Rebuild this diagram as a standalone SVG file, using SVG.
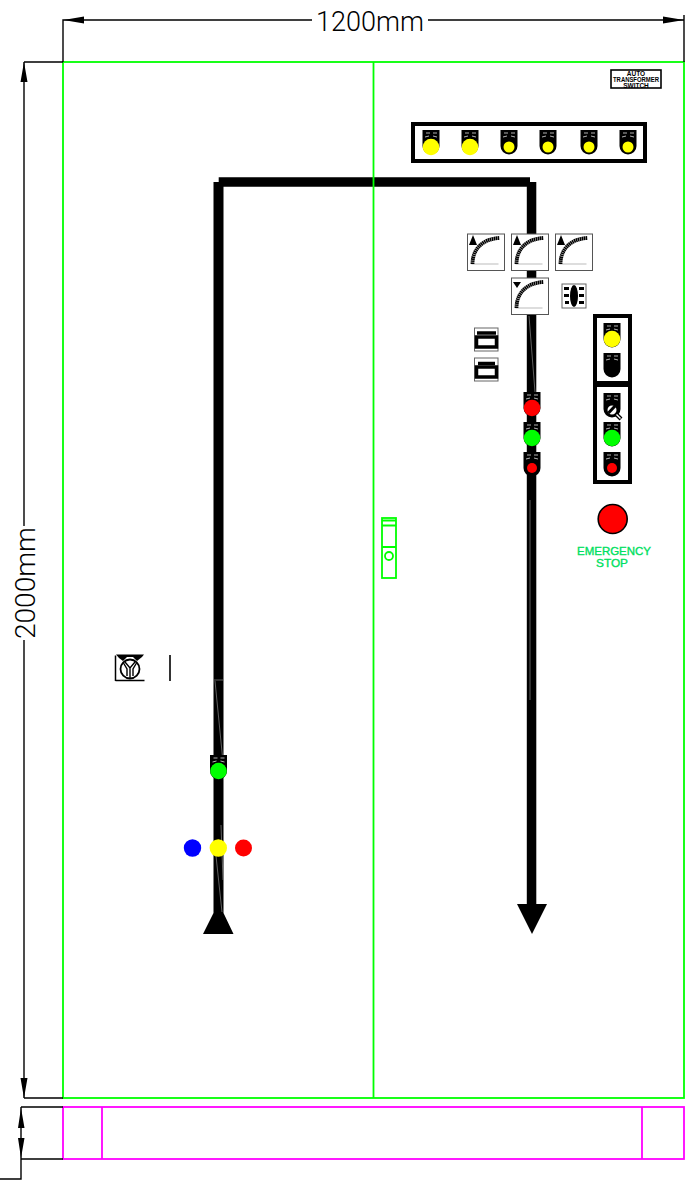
<svg xmlns="http://www.w3.org/2000/svg" width="686" height="1191" viewBox="0 0 686 1191">
<style>
.g{fill:none;stroke:#00ff00;stroke-width:1.8}
.m{fill:none;stroke:#ff00ff;stroke-width:1.8}
.d{fill:none;stroke:#000;stroke-width:1.4}
.dt{font-family:"Roboto","Liberation Sans",sans-serif;font-size:27px;fill:#000;font-weight:300}
.hair{stroke:#8a8a8a;stroke-width:.7;fill:none}
.mb{fill:#fff;stroke:#555;stroke-width:1}
.arc{fill:none;stroke:#000;stroke-width:3.8;stroke-dasharray:1.6 .4}
.bl{stroke:#bbb;stroke-width:1;fill:none}
.fr{fill:#fff;stroke:#000;stroke-width:4}
.w{stroke:#ddd;stroke-width:.8;fill:none}
.es{font-family:"Liberation Sans",Arial,sans-serif;font-size:10.8px;fill:#00e060;stroke:#00e060;stroke-width:.35;text-anchor:middle}
</style>
<defs>
<path id="sh" d="M-8.500 0H8.500V16A8.500 8.500 0 0 1-8.500 16Z" fill="#000"/>
<g id="marks"><path class="w" d="M-5 3H-1M2 3H6M-6 7L-2 6M2 6L6 7"/></g>
<g id="mtr"><rect class="mb" x="0" y="0" width="37" height="36.500"/><path class="bl" d="M4 30H31"/><path class="arc" d="M5 30C5 15 15 5 32 4"/></g>
</defs>
<rect width="686" height="1191" fill="#fff"/>
<g id="connectors">
<path d="M213.500 182H218.700V177.200H530V186.700H223.500V913L233.500 934H203L213.500 913Z" fill="#000"/>
<path d="M526.800 182H536.300V904H547L532 934L517 904H526.800Z" fill="#000"/>
<path class="hair" d="M214 680H223M215 681L222.500 757M221 825L223 880M216 856L222 912M529 316L535 392M530 500V700"/>
</g>
<g id="frame">
<rect class="g" x="63" y="62" width="621" height="1036"/>
<path class="g" d="M373.500 62V1098"/>
</g>
<g id="plinth">
<rect class="m" x="63" y="1107" width="621" height="52"/>
<path class="m" d="M102 1107V1159M642 1107V1159"/>
</g>
<g id="dimensions">
<path class="d" d="M63 62V20H312M428 20H684M684 15V62M24 62H63M24 1098H63M24 62V526M24 640V1098M21 1107H63M21 1159H63M21 1107V1179H0"/>
<path d="M63.500 20L84 16.500V23.500Z M684 20L663 16.500V23.500Z M24 62L20.500 82H27.500Z M24 1098L20.500 1078H27.500Z M21 1108L18 1128H24.500Z M21 1158L18 1138H24.500Z"/>
<text class="dt" x="370" y="31" text-anchor="middle" textLength="108" lengthAdjust="spacingAndGlyphs">1200mm</text>
<text class="dt" transform="translate(35 583) rotate(-90)" text-anchor="middle" textLength="112" lengthAdjust="spacingAndGlyphs">2000mm</text>
</g>
<g id="nameplate">
<rect x="611" y="70" width="50" height="18" fill="#fff" stroke="#000" stroke-width="1.600"/>
<g font-family="Liberation Sans,Arial,sans-serif" font-size="6.500" font-weight="700" text-anchor="middle" fill="#000">
<text x="636" y="75.500">AUTO</text><text x="636" y="81.500" textLength="46" lengthAdjust="spacingAndGlyphs">TRANSFORMER</text><text x="636" y="87.500">SWITCH</text>
</g>
</g>
<g id="lamp-panel-top">
<rect class="fr" x="413" y="124" width="232" height="37"/>
<use href="#sh" x="431" y="130"/><use href="#marks" x="431" y="130"/><circle cx="431" cy="147" r="8.300" fill="#ff0"/>
<use href="#sh" x="470" y="130"/><use href="#marks" x="470" y="130"/><circle cx="470" cy="147" r="8.300" fill="#ff0"/>
<use href="#sh" x="509" y="130"/><use href="#marks" x="509" y="130"/><circle cx="509" cy="147" r="5.500" fill="#ff0"/>
<use href="#sh" x="548" y="130"/><use href="#marks" x="548" y="130"/><circle cx="548" cy="147" r="5.500" fill="#ff0"/>
<use href="#sh" x="589" y="130"/><use href="#marks" x="589" y="130"/><circle cx="589" cy="147" r="5.500" fill="#ff0"/>
<use href="#sh" x="628" y="130"/><use href="#marks" x="628" y="130"/><circle cx="628" cy="147" r="5.500" fill="#ff0"/>
</g>
<g id="meter-1"><use href="#mtr" x="467.500" y="234"/><path d="M473 235L469 245H477Z"/></g>
<g id="meter-2"><use href="#mtr" x="511.500" y="234"/><path d="M517 235L513 245H521Z"/></g>
<g id="meter-3"><use href="#mtr" x="555.500" y="234"/><path d="M561 235L557 245H565Z"/></g>
<g id="meter-4"><use href="#mtr" x="511.500" y="278"/><path d="M513 282H521L517 288Z"/></g>
<g id="selector-small">
<rect x="562" y="284" width="24" height="24" fill="#fff" stroke="#666"/>
<ellipse cx="574" cy="296" rx="4" ry="11"/>
<path d="M564 288.500H569M579 288.500H584M564 295.500H569M579 295.500H584M565 302.500H569M579 302.500H584" stroke="#000" stroke-width="3"/>
</g>
<g id="switch-a">
<rect x="474.500" y="328" width="23.500" height="23" fill="#fff" stroke="#666"/>
<rect x="476.500" y="337" width="20" height="10" fill="#fff" stroke="#000" stroke-width="3.500"/>
<path d="M477 333H496" stroke="#000" stroke-width="3.500"/>
</g>
<g id="switch-b">
<rect x="474.500" y="358" width="23.500" height="23" fill="#fff" stroke="#666"/>
<rect x="476.500" y="367" width="20" height="10" fill="#fff" stroke="#000" stroke-width="3.500"/>
<path d="M478 363.500H495" stroke="#000" stroke-width="3.500"/>
</g>
<g id="lamps-centre">
<use href="#sh" x="532" y="392"/><use href="#marks" x="532" y="392"/><circle cx="532" cy="408" r="8.300" fill="#f00"/>
<use href="#sh" x="532" y="422"/><use href="#marks" x="532" y="422"/><circle cx="532" cy="438" r="8.300" fill="#0f0"/>
<use href="#sh" x="532" y="452"/><use href="#marks" x="532" y="452"/><circle cx="532" cy="468" r="5" fill="#f00"/>
</g>
<g id="control-panel">
<rect class="fr" x="595" y="316" width="35" height="67"/>
<rect class="fr" x="595" y="385" width="35" height="97"/>
<use href="#sh" x="612" y="323"/><use href="#marks" x="612" y="323"/><circle cx="612" cy="339" r="8.300" fill="#ff0"/>
<use href="#sh" x="612" y="353"/><use href="#marks" x="612" y="353"/>
<use href="#sh" x="612" y="393"/><use href="#marks" x="612" y="393"/>
<circle cx="612" cy="410" r="5.500" fill="#fff" stroke="#000" stroke-width="2"/>
<path d="M608.500 413L615 406" stroke="#000" stroke-width="3"/>
<path d="M616 414L621 419" stroke="#000" stroke-width="4"/><path d="M616.500 414.500L620.500 418.500" stroke="#fff" stroke-width="1.500"/>
<use href="#sh" x="612" y="422"/><use href="#marks" x="612" y="422"/><circle cx="612" cy="438" r="8.300" fill="#0f0"/>
<use href="#sh" x="612" y="452"/><use href="#marks" x="612" y="452"/><circle cx="612" cy="468" r="5" fill="#f00"/>
</g>
<g id="emergency-stop">
<circle cx="612.700" cy="519" r="14.500" fill="#f00" stroke="#000" stroke-width="1.600"/>
<text class="es" x="614" y="554.500" textLength="74" lengthAdjust="spacingAndGlyphs">EMERGENCY</text>
<text class="es" x="612" y="566.500" textLength="32" lengthAdjust="spacingAndGlyphs">STOP</text>
</g>
<g id="door-handle">
<rect class="g" x="382" y="518" width="14" height="60"/>
<path class="g" d="M382 520.500H396M382 525.500H396M382 547H396"/>
<circle class="g" cx="389" cy="556" r="4"/>
</g>
<g id="main-switch">
<path d="M115.500 655.500V681M115.500 680.500H144.500" stroke="#000" stroke-width="1.500" fill="none"/>
<path d="M116 654.500H144L142 657L137 661L133 657H127L123 661L119 658Z"/>
<circle cx="130" cy="669" r="9.500" fill="none" stroke="#000" stroke-width="1.800"/>
<path d="M130 678V668M125 662L130 668L135 662M127 676V669L123.500 663M133 676V669L136.500 663" stroke="#000" stroke-width="1.400" fill="none"/>
<path d="M170 655V681" stroke="#000" stroke-width="1.600"/>
</g>
<g id="lamp-left">
<use href="#sh" x="218.500" y="755"/><use href="#marks" x="218.500" y="755"/><circle cx="218.500" cy="771" r="8.300" fill="#0f0"/>
</g>
<g id="phase-lights">
<circle cx="192.500" cy="848" r="8.700" fill="#00f"/>
<circle cx="218.300" cy="848" r="8.700" fill="#ff0"/>
<circle cx="243.500" cy="848" r="8.500" fill="#f00"/>
</g>
</svg>
